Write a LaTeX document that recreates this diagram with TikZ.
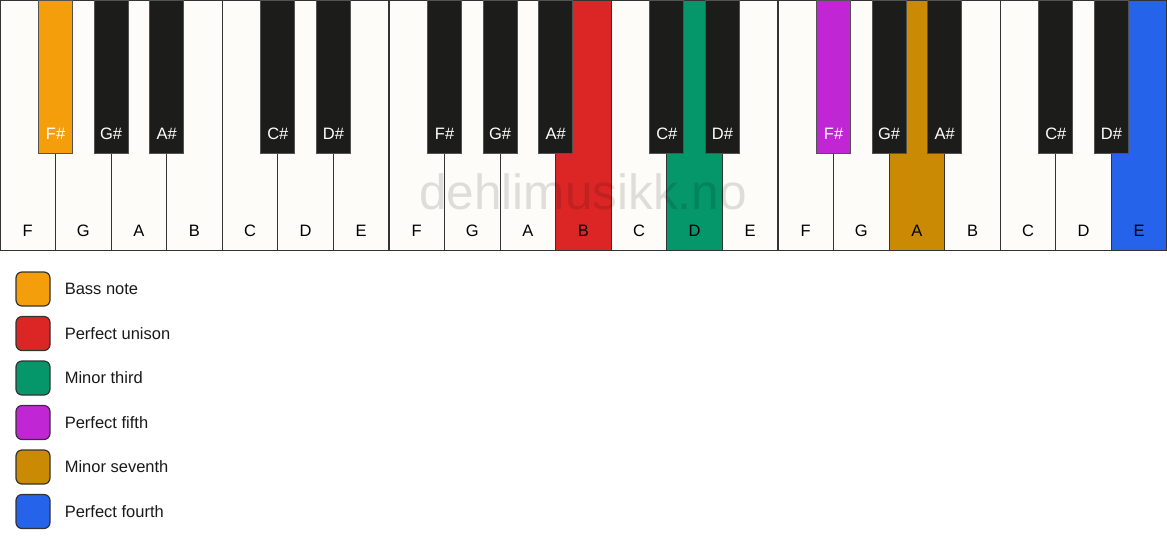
\documentclass[tikz,border=0pt]{standalone}
\usepackage{fontspec}
\setmainfont{Liberation Sans}
\usetikzlibrary{positioning}
\definecolor{KeyWhite}{HTML}{FDFCF9}
\definecolor{KeyBlack}{HTML}{1C1C1A}
\definecolor{KeyLine}{HTML}{333333}
\definecolor{BassNote}{HTML}{F59E0B}
\definecolor{Unison}{HTML}{DC2626}
\definecolor{MinorThird}{HTML}{059669}
\definecolor{PerfFifth}{HTML}{C026D3}
\definecolor{MinorSeventh}{HTML}{CA8A04}
\definecolor{PerfFourth}{HTML}{2563EB}

\begin{document}
\begin{tikzpicture}[x=1pt, y=1pt, every node/.style={font=\fontsize{16.5}{19}\selectfont}]
        \tikzstyle{whitekey} = [rectangle, draw=KeyLine, line width=1.2pt, anchor=north,
          minimum width=55.571pt, minimum height=250pt, inner sep=0pt]
        \tikzstyle{blackkey} = [rectangle, draw=KeyLine!85, line width=1.2pt, anchor=north,
          minimum width=34pt, minimum height=153pt, inner sep=0pt]
        \tikzstyle{legendbox} = [rectangle, draw=KeyLine, line width=1.2pt,
          rounded corners=6pt, minimum size=34pt]

        \useasboundingbox (0,0) rectangle (1167,-550);

        \foreach \letter/\col [count=\i] in {F/KeyWhite,G/KeyWhite,A/KeyWhite,B/KeyWhite,C/KeyWhite,D/KeyWhite,E/KeyWhite,
            F/KeyWhite,G/KeyWhite,A/KeyWhite,B/Unison,C/KeyWhite,D/MinorThird,E/KeyWhite,
            F/KeyWhite,G/KeyWhite,A/MinorSeventh,B/KeyWhite,C/KeyWhite,D/KeyWhite,E/PerfFourth}
        {
          \node[whitekey, fill=\col] (w\i) at (\i*55.571-27.786, 0) {};
          \node (wl\i) at ([yshift=20pt]w\i.south) {\letter};
        }

        \node[font=\fontsize{49.5}{52}\selectfont, text=black, text opacity=0.12] (mark) at (583,-192) {dehlimusikk.no};

        \foreach \b/\letter/\col [count=\j] in {1/F\#/BassNote,2/G\#/KeyBlack,3/A\#/KeyBlack,5/C\#/KeyBlack,6/D\#/KeyBlack,
            8/F\#/KeyBlack,9/G\#/KeyBlack,10/A\#/KeyBlack,12/C\#/KeyBlack,13/D\#/KeyBlack,
            15/F\#/PerfFifth,16/G\#/KeyBlack,17/A\#/KeyBlack,19/C\#/KeyBlack,20/D\#/KeyBlack}
        {
          \node[blackkey, fill=\col] (b\j) at (\b*55.571, 0) {};
          \node[text=white] (bl\j) at ([yshift=20pt]b\j.south) {\letter};
        }

        \foreach \name/\col [count=\i] in {Bass note/BassNote,Perfect unison/Unison,Minor third/MinorThird,
            Perfect fifth/PerfFifth,Minor seventh/MinorSeventh,Perfect fourth/PerfFourth}
        {
          \node[legendbox, fill=\col] (k\i) at (33, -244.5-\i*44.5) {};
          \node[right=14pt of k\i, inner sep=0pt, text=black!90] (t\i) {\name};
        }
      \end{tikzpicture}
\end{document}
